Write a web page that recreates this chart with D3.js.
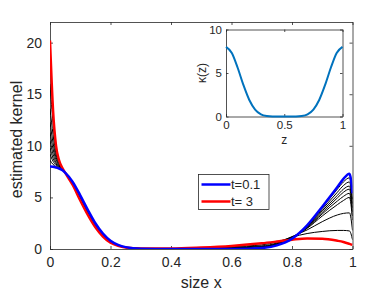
<!DOCTYPE html>
<html>
<head>
<meta charset="utf-8">
<script src="https://d3js.org/d3.v7.min.js"></script>
<style>
body { margin: 0; background: #fff; }
svg { display: block; }
text { font-family: "Liberation Sans", Arial, sans-serif; fill: #262626; }
</style>
</head>
<body>
<svg width="390" height="293"></svg>
<script>
// size grid for the main plot
var sizeX = [0, 0.01, 0.02, 0.03, 0.04, 0.05, 0.075, 0.1, 0.125, 0.15, 0.175, 0.2, 0.225, 0.25,
             0.3, 0.4, 0.5, 0.6, 0.7, 0.75, 0.8, 0.85, 0.9, 0.95, 0.97, 0.99, 1.0];

// estimated kernel, t = 0.1 (blue)
var kernelT01 = [8.0, 7.98, 7.9, 7.8, 7.65, 7.4, 6.5, 5.2, 3.8, 2.5, 1.5, 0.8, 0.4, 0.18,
                 0.03, 0, 0, 0.01, 0.1, 0.35, 1.0, 2.3, 4.1, 6.0, 6.8, 7.3, 5.4];
// intermediate times (black)
var kernelB1 = [8.6, 8.2, 7.98, 7.82, 7.64, 7.4, 6.45, 5.15, 3.75, 2.45, 1.45, 0.78, 0.38, 0.17,
                0.03, 0, 0, 0.02, 0.12, 0.38, 1.02, 2.25, 4.0, 5.8, 6.5, 6.9, 4.8];
var kernelB2 = [9.2, 8.5, 8.1, 7.86, 7.64, 7.4, 6.42, 5.1, 3.7, 2.4, 1.42, 0.75, 0.37, 0.17,
                0.035, 0.005, 0.01, 0.03, 0.14, 0.4, 1.05, 2.2, 3.85, 5.5, 6.15, 6.5, 4.4];
var kernelB3 = [9.8, 8.8, 8.25, 7.9, 7.66, 7.4, 6.4, 5.05, 3.65, 2.35, 1.4, 0.73, 0.36, 0.16,
                0.04, 0.01, 0.02, 0.05, 0.16, 0.42, 1.07, 2.15, 3.7, 5.2, 5.8, 6.1, 4.0];
var kernelB4 = [10.5, 9.2, 8.4, 7.98, 7.7, 7.4, 6.37, 5.0, 3.6, 2.3, 1.37, 0.7, 0.35, 0.16,
                0.04, 0.015, 0.03, 0.07, 0.18, 0.45, 1.1, 2.1, 3.55, 4.95, 5.5, 5.8, 3.6];
var kernelB5 = [11.3, 9.7, 8.65, 8.05, 7.72, 7.4, 6.34, 4.95, 3.55, 2.25, 1.33, 0.68, 0.34, 0.16,
                0.045, 0.02, 0.05, 0.09, 0.2, 0.48, 1.12, 2.05, 3.4, 4.65, 5.1, 5.4, 3.2];
var kernelB6 = [12.3, 10.3, 8.9, 8.15, 7.75, 7.4, 6.3, 4.9, 3.5, 2.2, 1.3, 0.66, 0.33, 0.15,
                0.05, 0.025, 0.07, 0.12, 0.23, 0.52, 1.15, 2.0, 3.2, 4.3, 4.7, 5.0, 2.8];
var kernelB7 = [13.6, 11.1, 9.2, 8.3, 7.8, 7.4, 6.26, 4.83, 3.42, 2.15, 1.25, 0.64, 0.32, 0.15,
                0.05, 0.035, 0.1, 0.18, 0.3, 0.58, 1.2, 1.85, 2.65, 3.3, 3.45, 3.5, 1.8];
var kernelB8 = [16.0, 12.2, 9.6, 8.45, 7.85, 7.4, 6.22, 4.77, 3.36, 2.12, 1.22, 0.62, 0.31, 0.15,
                0.055, 0.045, 0.12, 0.24, 0.4, 0.68, 1.15, 1.5, 1.7, 1.8, 1.8, 1.75, 0.9];
// estimated kernel, t = 3 (red)
var kernelT3 = [20.2, 13.5, 10.0, 8.6, 7.9, 7.4, 6.2, 4.7, 3.3, 2.1, 1.2, 0.6, 0.3, 0.15,
                0.06, 0.06, 0.15, 0.3, 0.55, 0.72, 0.9, 1.02, 1.0, 0.8, 0.68, 0.5, 0.4];

var xTicks = [0, 0.2, 0.4, 0.6, 0.8, 1];
var yTicks = [0, 5, 10, 15, 20];

// inset: true kernel kappa(z)
var zGrid = [0, 0.05, 0.1, 0.15, 0.2, 0.25, 0.3, 0.35, 0.4, 0.5, 0.6, 0.65, 0.7, 0.75, 0.8, 0.85, 0.9, 0.95, 1];
var kappa = [8, 7.3, 5.6, 3.6, 1.9, 0.8, 0.25, 0.06, 0.01, 0, 0.01, 0.06, 0.25, 0.8, 1.9, 3.6, 5.6, 7.3, 8];
var zTicks = [0, 0.5, 1];
var kTicks = [0, 5, 10];

var legendLabels = ["t=0.1", "t= 3"];

var svg = d3.select("svg");
var axisColor = "#262626";

// ---------- main axes ----------
var m = {left: 50, right: 352.5, top: 22, bottom: 249};
var x = d3.scaleLinear().domain([0, 1]).range([m.left, m.right]);
var y = d3.scaleLinear().domain([0, 22]).range([m.bottom, m.top]);

svg.append("clipPath").attr("id", "clipMain")
  .append("rect").attr("x", m.left).attr("y", m.top)
  .attr("width", m.right - m.left).attr("height", m.bottom - m.top);

function boxAxes(g, xs, ys, xt, yt, fontSize, xfmt, tickLen, labelGap) {
  var x0 = xs.range()[0], x1 = xs.range()[1], y0 = ys.range()[0], y1 = ys.range()[1];
  g.append("g").attr("transform", "translate(0," + y0 + ")")
    .call(d3.axisBottom(xs).tickValues(xt).tickSizeInner(-tickLen).tickSizeOuter(0).tickPadding(labelGap).tickFormat(xfmt));
  g.append("g").attr("transform", "translate(0," + y1 + ")")
    .call(d3.axisTop(xs).tickValues(xt).tickSizeInner(-tickLen).tickSizeOuter(0).tickFormat(""));
  g.append("g").attr("transform", "translate(" + x0 + ",0)")
    .call(d3.axisLeft(ys).tickValues(yt).tickSizeInner(-tickLen).tickSizeOuter(0).tickPadding(labelGap));
  g.append("g").attr("transform", "translate(" + x1 + ",0)")
    .call(d3.axisRight(ys).tickValues(yt).tickSizeInner(-tickLen).tickSizeOuter(0).tickFormat(""));
  g.selectAll(".domain").attr("stroke", axisColor).attr("stroke-width", 0.8);
  g.selectAll(".tick line").attr("stroke", axisColor).attr("stroke-width", 0.8);
  g.selectAll(".tick text").attr("font-size", fontSize).attr("fill", axisColor)
    .attr("font-family", "Liberation Sans, Arial, sans-serif");
}

var mainAx = svg.append("g");
boxAxes(mainAx, x, y, xTicks, yTicks, 14, d3.format("~g"), 3, 8);

var line = d3.line().x(function(d) { return x(d[0]); }).y(function(d) { return y(d[1]); })
  .curve(d3.curveMonotoneX);

var blacks = [kernelB1, kernelB2, kernelB3, kernelB4, kernelB5, kernelB6, kernelB7, kernelB8];
var plot = svg.append("g").attr("clip-path", "url(#clipMain)");

plot.selectAll("path.black").data(blacks).enter().append("path")
  .attr("class", "black")
  .attr("d", function(s) { return line(d3.zip(sizeX, s)); })
  .attr("fill", "none").attr("stroke", "#000").attr("stroke-width", 1);

plot.append("path").attr("d", line(d3.zip(sizeX, kernelT3)))
  .attr("fill", "none").attr("stroke", "#ff0000").attr("stroke-width", 2.5);
plot.append("path").attr("d", line(d3.zip(sizeX, kernelT01)))
  .attr("fill", "none").attr("stroke", "#0000ff").attr("stroke-width", 2.5);

// axis labels
svg.append("text").attr("x", (m.left + m.right) / 2).attr("y", 288)
  .attr("text-anchor", "middle").attr("font-size", 16).text("size x");
svg.append("text").attr("transform", "translate(22," + ((m.top + m.bottom) / 2 + 4) + ") rotate(-90)")
  .attr("text-anchor", "middle").attr("font-size", 16).text("estimated kernel");

// legend
var lg = svg.append("g").attr("transform", "translate(198.5,174.5)");
lg.append("rect").attr("width", 70.5).attr("height", 35).attr("fill", "#fff")
  .attr("stroke", axisColor).attr("stroke-width", 0.8);
var legColors = ["#0000ff", "#ff0000"];
legendLabels.forEach(function(t, i) {
  var ly = 10 + i * 17;
  lg.append("line").attr("x1", 3).attr("x2", 32).attr("y1", ly).attr("y2", ly)
    .attr("stroke", legColors[i]).attr("stroke-width", 2.5);
  lg.append("text").attr("x", 32.5).attr("y", ly + 4.5).attr("font-size", 13).text(t);
});

// ---------- inset ----------
var ix = d3.scaleLinear().domain([0, 1]).range([226, 342.5]);
var iy = d3.scaleLinear().domain([0, 10]).range([116.5, 29.5]);
svg.append("rect").attr("x", 226).attr("y", 29.5).attr("width", 116.5).attr("height", 87)
  .attr("fill", "#fff");
var insAx = svg.append("g");
boxAxes(insAx, ix, iy, zTicks, kTicks, 11.5, d3.format("~g"), 2.5, 4);

var iline = d3.line().x(function(d) { return ix(d[0]); }).y(function(d) { return iy(d[1]); })
  .curve(d3.curveMonotoneX);
svg.append("path").attr("d", iline(d3.zip(zGrid, kappa)))
  .attr("fill", "none").attr("stroke", "#0072BD").attr("stroke-width", 2);

svg.append("text").attr("x", 284.3).attr("y", 144).attr("text-anchor", "middle")
  .attr("font-size", 12).text("z");
svg.append("text").attr("transform", "translate(206,73) rotate(-90)")
  .attr("text-anchor", "middle").attr("font-size", 12).text("κ(z)");
</script>
</body>
</html>
